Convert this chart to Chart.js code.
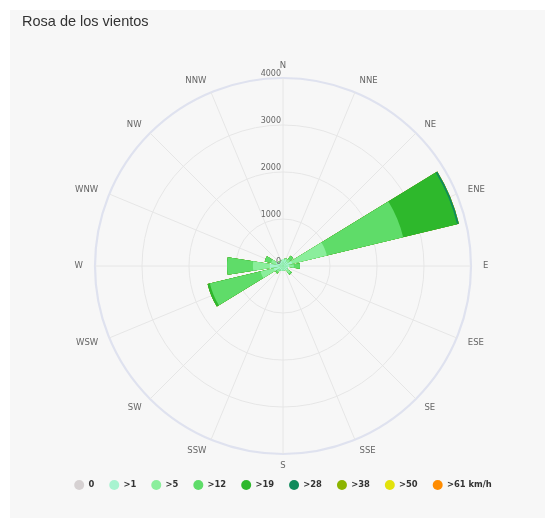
<!DOCTYPE html>
<html>
<head>
<meta charset="utf-8">
<script src="https://cdn.jsdelivr.net/npm/chart.js@4/dist/chart.umd.min.js"></script>
<style>
  body { margin: 0; background: #fff; }
  #box { position: absolute; left: 10px; top: 10px; width: 535px; height: 508px; background: #f7f7f7; }
</style>
</head>
<body>
<div id="box"><canvas id="rose" width="535" height="508"></canvas></div>
<script>
const directions = ['N', 'NNE', 'NE', 'ENE', 'E', 'ESE', 'SE', 'SSE', 'S', 'SSW', 'SW', 'WSW', 'W', 'WNW', 'NW', 'NNW'];
const radialTicks = [0, 1000, 2000, 3000, 4000];

// speed classes, one value per direction (N ... NNW)
const calm   = [0, 0, 0, 0, 0, 0, 0, 0, 0, 0, 0, 0, 0, 0, 0, 0];
const over1  = [150, 150, 120, 200, 130, 110, 120, 100, 100, 110, 100, 200, 280, 160, 110, 120];
const over5  = [0, 20, 60, 760, 100, 0, 80, 0, 0, 0, 60, 290, 360, 100, 20, 0];
const over12 = [0, 0, 90, 1670, 130, 0, 30, 0, 0, 0, 40, 1110, 550, 140, 0, 0];
const over19 = [0, 0, 0, 1180, 0, 0, 0, 0, 0, 0, 0, 50, 0, 0, 0, 0];
const over28 = [0, 0, 0, 40, 0, 0, 0, 0, 0, 0, 0, 0, 0, 0, 0, 0];
const over38 = [0, 0, 0, 0, 0, 0, 0, 0, 0, 0, 0, 0, 0, 0, 0, 0];
const over50 = [0, 0, 0, 0, 0, 0, 0, 0, 0, 0, 0, 0, 0, 0, 0, 0];
const over61 = [0, 0, 0, 0, 0, 0, 0, 0, 0, 0, 0, 0, 0, 0, 0, 0];

const classes = [
  { label: '0', values: calm, color: '#d6d1d2' },
  { label: '>1', values: over1, color: '#a7f3d0' },
  { label: '>5', values: over5, color: '#8bee9c' },
  { label: '>12', values: over12, color: '#5fdc69' },
  { label: '>19', values: over19, color: '#2eb82c' },
  { label: '>28', values: over28, color: '#0f8a5c' },
  { label: '>38', values: over38, color: '#8cb400' },
  { label: '>50', values: over50, color: '#e2e20c' },
  { label: '>61 km/h', values: over61, color: '#ff8c00' }
];

// each sector covers 80% of its 22.5deg slot; N is split in two halves
// so that every sector sits centred on its direction
const SLOT = 360 / directions.length;
const WIDTH = SLOT * 0.8;
const GAP = SLOT - WIDTH;

function sectorAngles() {
  const a = [WIDTH / 2];
  for (let i = 1; i < directions.length; i++) a.push(GAP, WIDTH);
  a.push(GAP, WIDTH / 2);
  return a;
}

function toSectors(values) {
  const out = [values[0]];
  for (let i = 1; i < values.length; i++) out.push(0, values[i]);
  out.push(0, values[0]);
  return out;
}

const angles = sectorAngles();
const sectorLabels = toSectors(directions).map(v => v || '');

// stacked totals: the widest class is drawn underneath the narrower ones
let running = directions.map(() => 0);
const datasets = classes.map(c => {
  running = running.map((v, i) => v + c.values[i]);
  return {
    label: c.label,
    data: toSectors(running),
    backgroundColor: c.color,
    borderWidth: 0,
    angle: ctx => angles[ctx.dataIndex]
  };
});

// tick values up the north spoke, compass names round the rim
const roseText = {
  id: 'roseText',
  afterDatasetsDraw(chart) {
    const r = chart.scales.r;
    const ctx = chart.ctx;
    ctx.save();
    ctx.fillStyle = '#666';
    ctx.textBaseline = 'middle';
    ctx.font = '8px "DejaVu Sans"';
    ctx.textAlign = 'right';
    radialTicks.forEach(v => {
      ctx.fillText(String(v), r.xCenter - 2, r.yCenter - r.getDistanceFromCenterForValue(v) - 4);
    });
    ctx.font = '8.5px "DejaVu Sans"';
    directions.forEach((d, i) => {
      const deg = i * SLOT;
      const p = r.getPointPosition(i, r.drawingArea + 12);
      if (deg > 20 && deg < 160) ctx.textAlign = 'left';
      else if (deg > 200 && deg < 340) ctx.textAlign = 'right';
      else ctx.textAlign = 'center';
      ctx.fillText(d, p.x, p.y);
    });
    ctx.restore();
  }
};

new Chart(document.getElementById('rose'), {
  type: 'polarArea',
  data: { labels: sectorLabels, datasets: datasets },
  options: {
    responsive: false,
    animation: false,
    layout: { padding: { left: 12, right: 1, top: 0, bottom: 18.8 } },
    scales: {
      r: {
        labels: directions,
        min: 0,
        max: 4000,
        startAngle: 0,
        ticks: { display: false, stepSize: 1000 },
        pointLabels: { display: false },
        angleLines: { display: true, color: '#e6e6e6', lineWidth: 1 },
        grid: {
          circular: true,
          color: ctx => ctx.tick && ctx.tick.value === 4000 ? '#dfe2ef' : '#e6e6e6',
          lineWidth: ctx => ctx.tick && ctx.tick.value === 4000 ? 2.2 : 1
        }
      }
    },
    plugins: {
      tooltip: { enabled: false },
      title: {
        display: true,
        text: 'Rosa de los vientos',
        align: 'start',
        color: '#333',
        font: { family: '"Liberation Sans", Arial', size: 14.5, weight: 'normal' },
        padding: { top: 3, bottom: 47.6 }
      },
      legend: {
        position: 'bottom',
        title: { display: true, text: '', font: { size: 1 }, padding: { top: 9.6, bottom: 0 } },
        labels: {
          color: '#333',
          font: { family: '"DejaVu Sans"', size: 8.4, weight: 'bold' },
          usePointStyle: true,
          pointStyleWidth: 10,
          boxHeight: 7,
          padding: 15,
          generateLabels: chart => chart.data.datasets.map((ds, i) => ({
            text: ds.label,
            fillStyle: ds.backgroundColor,
            strokeStyle: ds.backgroundColor,
            lineWidth: 0,
            pointStyle: 'circle',
            hidden: false,
            datasetIndex: i,
            fontColor: '#333'
          }))
        }
      }
    }
  },
  plugins: [roseText]
});
</script>
</body>
</html>
